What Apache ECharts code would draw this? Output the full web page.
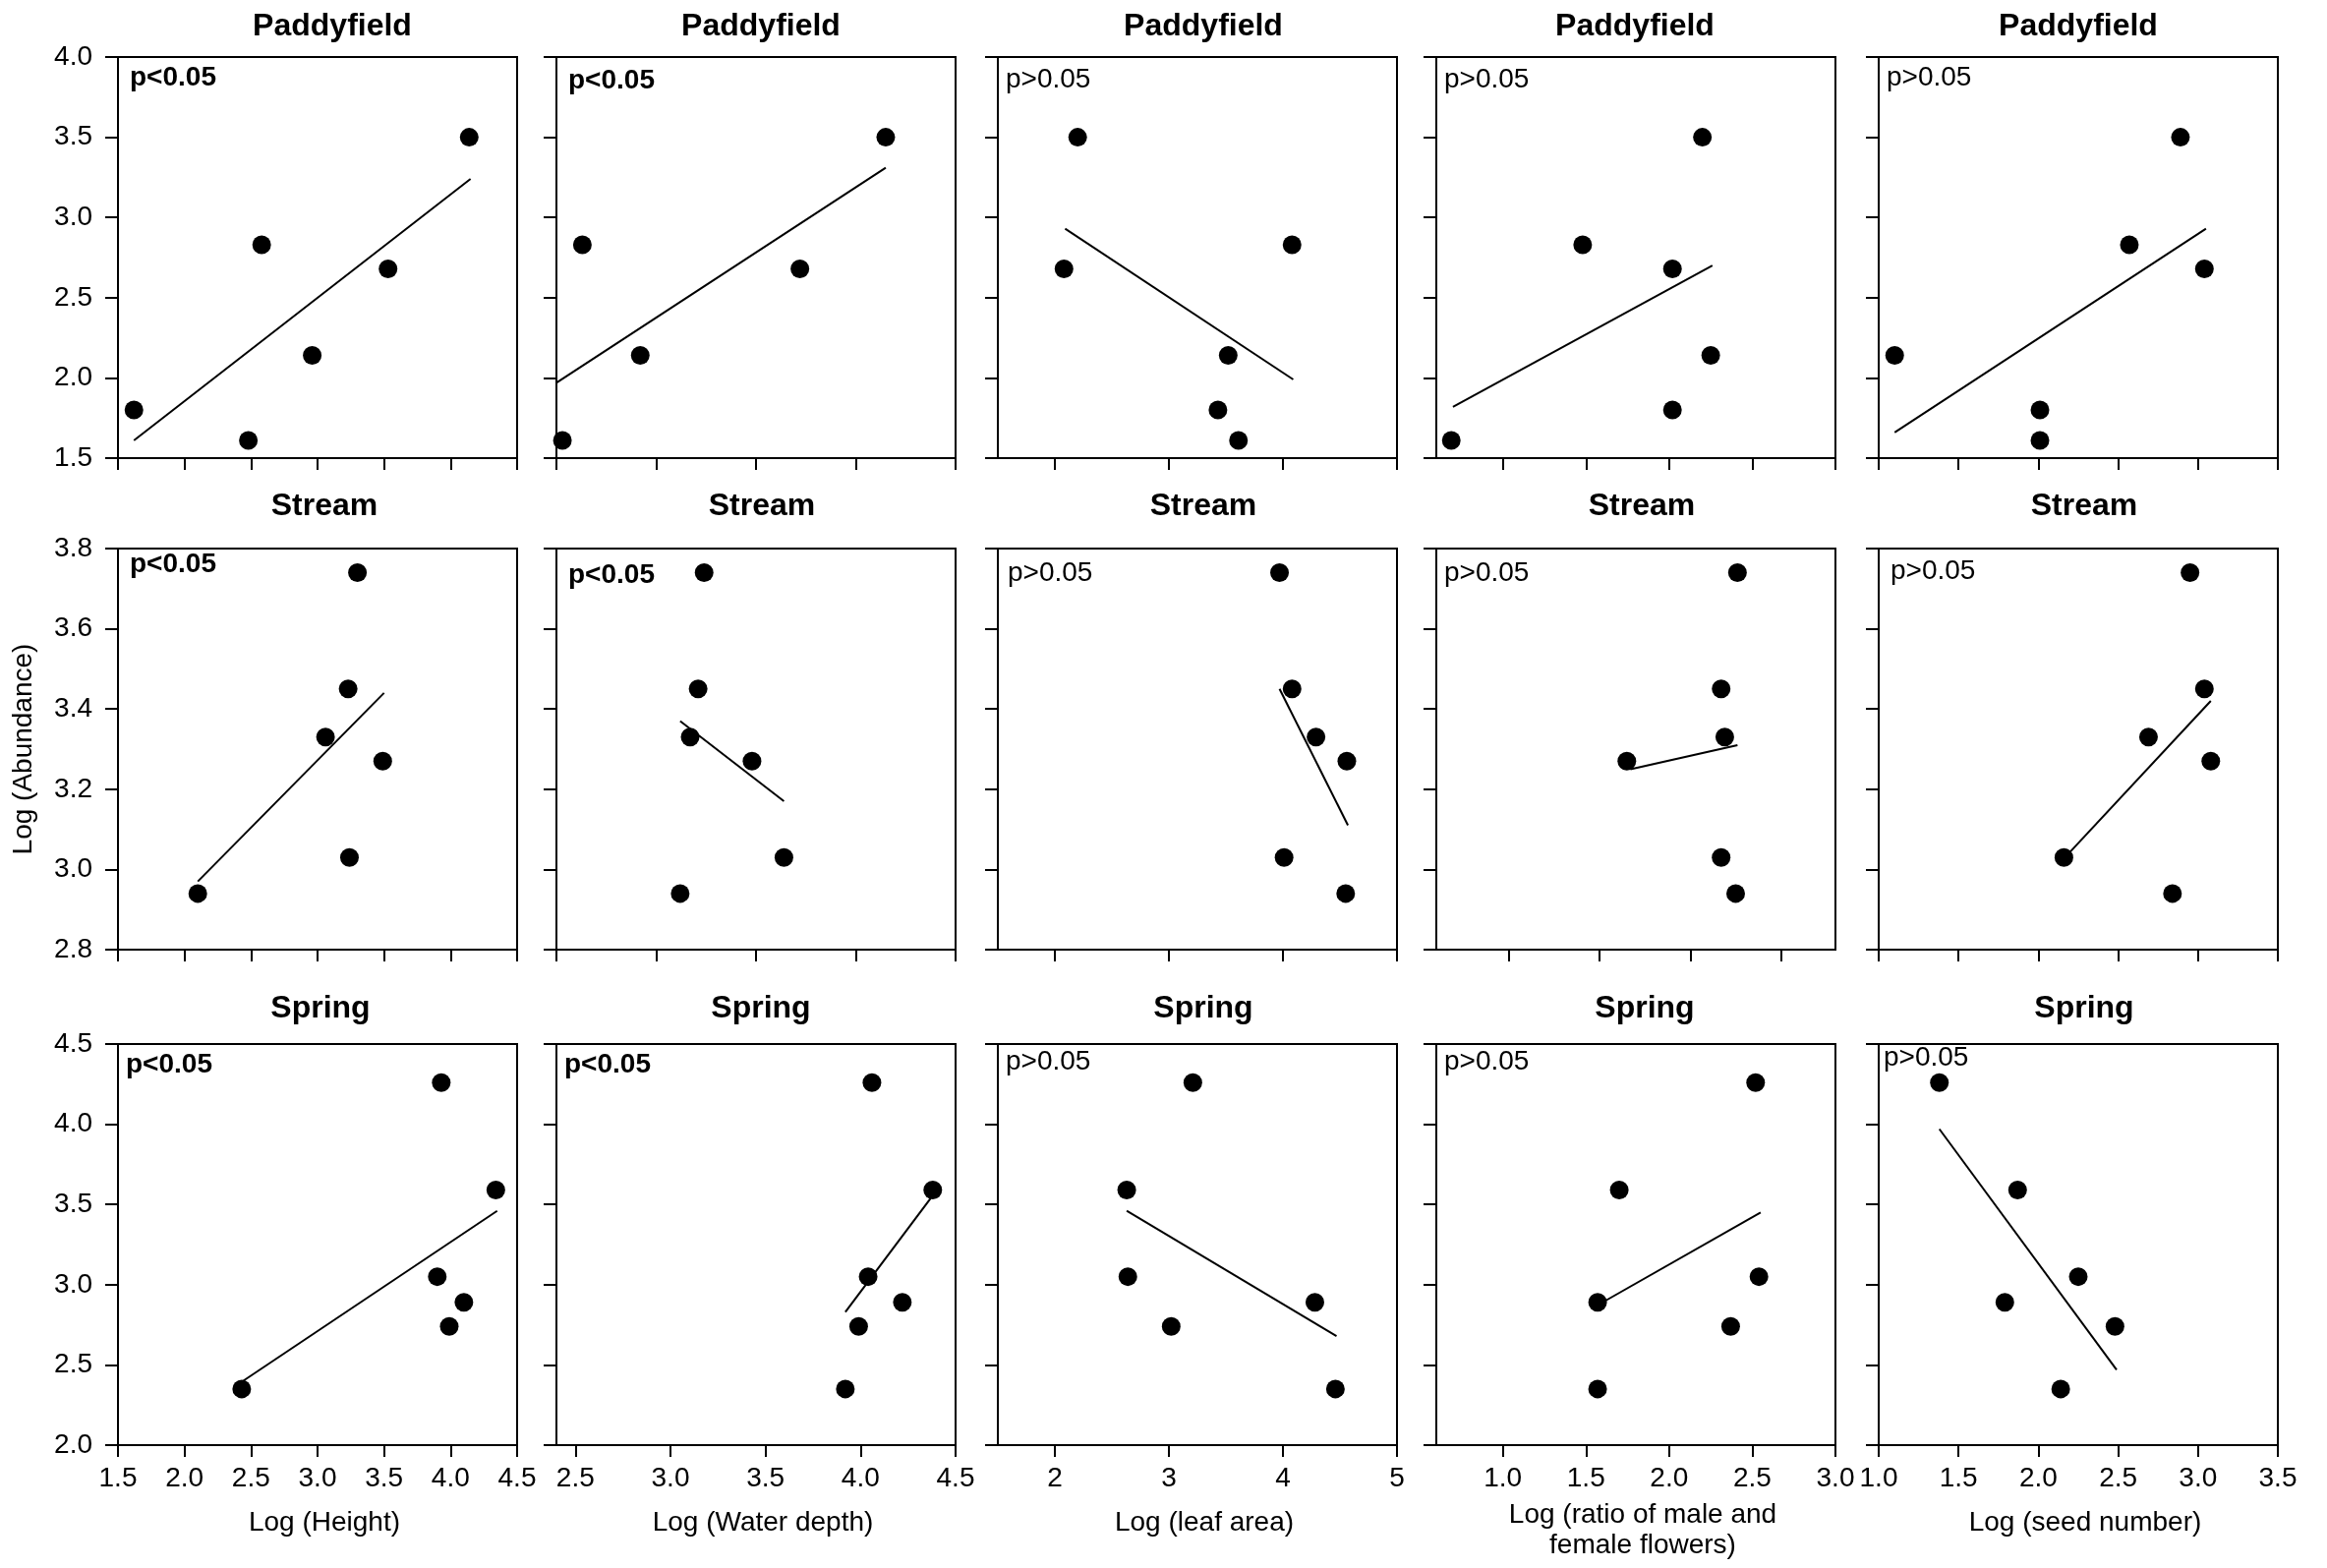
<!DOCTYPE html>
<html>
<head>
<meta charset="utf-8">
<title>Log (Abundance) vs plant traits</title>
<script src="https://cdn.jsdelivr.net/npm/echarts@6/dist/echarts.min.js"></script>
<style>
  html, body { margin: 0; padding: 0; background: #fff; }
  #chart { width: 2367px; height: 1595px; }
</style>
</head>
<body>
<div id="chart"></div>
<script>
// row titles, p labels and x axis names
const habitats = ["Paddyfield", "Stream", "Spring"];
const pValues = [
    ["p<0.05", "p<0.05", "p>0.05", "p>0.05", "p>0.05"],
    ["p<0.05", "p<0.05", "p>0.05", "p>0.05", "p>0.05"],
    ["p<0.05", "p<0.05", "p>0.05", "p>0.05", "p>0.05"]
];
const traitNames = ["Log (Height)", "Log (Water depth)", "Log (leaf area)",
    "Log (ratio of male and\nfemale flowers)", "Log (seed number)"];
const yName = "Log (Abundance)";

// y axis ranges and tick values per row
const yMin = [1.5, 2.8, 2.0];
const yMax = [4.0, 3.8, 4.5];
const yTicks = [
    [1.5, 2.0, 2.5, 3.0, 3.5, 4.0],
    [2.8, 3.0, 3.2, 3.4, 3.6, 3.8],
    [2.0, 2.5, 3.0, 3.5, 4.0, 4.5]
];

// x axis ranges and tick values per panel [row][col]
const xMin = [
    [1.5, 2.5, 1.5, 0.6, 1.0],
    [1.5, 2.5, 1.5, 0.6, 1.0],
    [1.5, 2.4, 1.5, 0.6, 1.0]
];
const xMax = [
    [4.5, 4.5, 5.0, 3.0, 3.5],
    [4.5, 4.5, 5.0, 2.8, 3.5],
    [4.5, 4.5, 5.0, 3.0, 3.5]
];
const heightTicks = [1.5, 2.0, 2.5, 3.0, 3.5, 4.0, 4.5];
const depthTicks = [2.5, 3.0, 3.5, 4.0, 4.5];
const leafTicks = [2, 3, 4, 5];
const ratioTicks = [1.0, 1.5, 2.0, 2.5, 3.0];
const seedTicks = [1.0, 1.5, 2.0, 2.5, 3.0, 3.5];

// Paddyfield points [x, y] and fitted line ends
const paddyHeight = [[1.62, 1.80], [2.48, 1.61], [2.58, 2.83], [2.96, 2.14], [3.53, 2.68], [4.14, 3.50]];
const paddyHeightFit = [[1.62, 1.61], [4.15, 3.24]];
const paddyDepth = [[2.53, 1.61], [2.63, 2.83], [2.92, 2.14], [3.72, 2.68], [4.15, 3.50]];
const paddyDepthFit = [[2.50, 1.97], [4.15, 3.31]];
const paddyLeaf = [[2.08, 2.68], [2.20, 3.50], [3.43, 1.80], [3.52, 2.14], [3.61, 1.61], [4.08, 2.83]];
const paddyLeafFit = [[2.09, 2.93], [4.09, 1.99]];
const paddyRatio = [[0.69, 1.61], [1.48, 2.83], [2.02, 2.68], [2.02, 1.80], [2.20, 3.50], [2.25, 2.14]];
const paddyRatioFit = [[0.70, 1.82], [2.26, 2.70]];
const paddySeed = [[1.10, 2.14], [2.01, 1.80], [2.01, 1.61], [2.57, 2.83], [2.89, 3.50], [3.04, 2.68]];
const paddySeedFit = [[1.10, 1.66], [3.05, 2.93]];

// Stream
const streamHeight = [[2.10, 2.94], [3.06, 3.33], [3.23, 3.45], [3.30, 3.74], [3.49, 3.27], [3.24, 3.03]];
const streamHeightFit = [[2.10, 2.97], [3.50, 3.44]];
const streamDepth = [[3.12, 2.94], [3.24, 3.74], [3.21, 3.45], [3.17, 3.33], [3.48, 3.27], [3.64, 3.03]];
const streamDepthFit = [[3.12, 3.37], [3.64, 3.17]];
const streamLeaf = [[3.97, 3.74], [4.08, 3.45], [4.29, 3.33], [4.56, 3.27], [4.01, 3.03], [4.55, 2.94]];
const streamLeafFit = [[3.97, 3.45], [4.57, 3.11]];
const streamRatio = [[1.65, 3.27], [2.17, 3.45], [2.19, 3.33], [2.26, 3.74], [2.17, 3.03], [2.25, 2.94]];
const streamRatioFit = [[1.67, 3.25], [2.26, 3.31]];
const streamSeed = [[2.16, 3.03], [2.69, 3.33], [2.84, 2.94], [2.95, 3.74], [3.04, 3.45], [3.08, 3.27]];
const streamSeedFit = [[2.19, 3.04], [3.08, 3.42]];

// Spring
const springHeight = [[2.43, 2.35], [3.93, 4.26], [3.90, 3.05], [4.10, 2.89], [3.99, 2.74], [4.34, 3.59]];
const springHeightFit = [[2.44, 2.40], [4.35, 3.46]];
const springDepth = [[3.92, 2.35], [3.99, 2.74], [4.04, 3.05], [4.06, 4.26], [4.22, 2.89], [4.38, 3.59]];
const springDepthFit = [[3.92, 2.83], [4.37, 3.54]];
const springLeaf = [[3.21, 4.26], [2.63, 3.59], [2.64, 3.05], [3.02, 2.74], [4.28, 2.89], [4.46, 2.35]];
const springLeafFit = [[2.63, 3.46], [4.47, 2.68]];
const springRatio = [[2.52, 4.26], [1.70, 3.59], [2.54, 3.05], [1.57, 2.89], [2.37, 2.74], [1.57, 2.35]];
const springRatioFit = [[1.60, 2.89], [2.55, 3.45]];
const springSeed = [[1.38, 4.26], [1.87, 3.59], [2.25, 3.05], [1.79, 2.89], [2.48, 2.74], [2.14, 2.35]];
const springSeedFit = [[1.38, 3.97], [2.49, 2.47]];

const points = [
    [paddyHeight, paddyDepth, paddyLeaf, paddyRatio, paddySeed],
    [streamHeight, streamDepth, streamLeaf, streamRatio, streamSeed],
    [springHeight, springDepth, springLeaf, springRatio, springSeed]
];
const fits = [
    [paddyHeightFit, paddyDepthFit, paddyLeafFit, paddyRatioFit, paddySeedFit],
    [streamHeightFit, streamDepthFit, streamLeafFit, streamRatioFit, streamSeedFit],
    [springHeightFit, springDepthFit, springLeafFit, springRatioFit, springSeedFit]
];
const xTicks = [heightTicks, depthTicks, leafTicks, ratioTicks, seedTicks];

/* layout */
const FONT = "'Liberation Sans', Arial, sans-serif";
const gridLeft = [120, 566, 1015, 1461, 1911];
const gridTop = [58, 558, 1062];
const gridW = 406, gridH = 408;
const titleX = [[338, 774, 1224, 1663, 2114], [330, 775, 1224, 1670, 2120], [326, 774, 1224, 1673, 2120]];
const titleY = [28, 516, 1027];
// offset of the p label inside each panel [dx, dy of text centre]
const pOffset = [
    [[12, 22], [12, 25], [8, 24], [8, 24], [8, 22]],
    [[12, 17], [12, 28], [10, 26], [8, 26], [12, 24]],
    [[8, 22], [8, 22], [8, 19], [8, 19], [5, 15]]
];

let myChart = echarts.init(document.getElementById("chart"), null, { renderer: "canvas" });

function buildOption() {
    let grids = [], xAxes = [], yAxes = [], series = [], titles = [];
    habitats.forEach((habitat, r) => {
        for (let c = 0; c < 5; c++) {
            let idx = r * 5 + c;
            grids.push({
                left: gridLeft[c], top: gridTop[r], width: gridW, height: gridH,
                show: true, borderColor: "#000", borderWidth: 2, backgroundColor: "transparent"
            });
            let showX = r === 2;
            xAxes.push({
                gridIndex: idx, type: "value", min: xMin[r][c], max: xMax[r][c],
                axisLine: { show: true, onZero: false, lineStyle: { color: "#000", width: 2 } },
                axisTick: { show: true, length: 12, customValues: xTicks[c], lineStyle: { color: "#000", width: 2 } },
                axisLabel: {
                    show: showX, customValues: xTicks[c], margin: 20,
                    fontSize: 28, fontFamily: FONT, color: "#000",
                    formatter: v => c === 2 ? String(Math.round(v)) : v.toFixed(1)
                },
                splitLine: { show: false },
                name: showX ? traitNames[c] : "",
                nameLocation: "middle",
                nameGap: c === 3 ? 56 : 64,
                nameTextStyle: { fontSize: 28, fontFamily: FONT, color: "#000", lineHeight: 31, padding: [0, 0, 0, 14] }
            });
            let showY = c === 0;
            yAxes.push({
                gridIndex: idx, type: "value", min: yMin[r], max: yMax[r],
                axisLine: { show: true, onZero: false, lineStyle: { color: "#000", width: 2 } },
                axisTick: { show: true, length: 13, customValues: yTicks[r], lineStyle: { color: "#000", width: 2 } },
                axisLabel: {
                    show: showY, customValues: yTicks[r], margin: 26,
                    fontSize: 28, fontFamily: FONT, color: "#000",
                    formatter: v => v.toFixed(1)
                },
                splitLine: { show: false },
                name: (showY && r === 1) ? yName : "",
                nameLocation: "middle",
                nameRotate: 90,
                nameGap: 82,
                nameTextStyle: { fontSize: 28, fontFamily: FONT, color: "#000" }
            });
            series.push({
                type: "line", xAxisIndex: idx, yAxisIndex: idx,
                data: fits[r][c], showSymbol: false, silent: true,
                lineStyle: { color: "#000", width: 2 }
            });
            series.push({
                type: "scatter", xAxisIndex: idx, yAxisIndex: idx,
                data: points[r][c], symbol: "circle", symbolSize: 19,
                itemStyle: { color: "#000", opacity: 1 }
            });
            // row title
            titles.push({
                text: habitat, left: titleX[r][c], top: titleY[r] - 17, textAlign: "center", padding: 0,
                textStyle: { fontSize: 32, fontWeight: "bold", fontFamily: FONT, color: "#000" }
            });
            // p label
            let bold = pValues[r][c].indexOf("<") >= 0;
            titles.push({
                text: pValues[r][c], left: gridLeft[c] + pOffset[r][c][0], top: gridTop[r] + pOffset[r][c][1] - 15, padding: 0,
                textStyle: { fontSize: 28, fontWeight: bold ? "bold" : "normal", fontFamily: FONT, color: "#000" }
            });
        }
    });
    return {
        backgroundColor: "#fff",
        animation: false,
        title: titles,
        grid: grids,
        xAxis: xAxes,
        yAxis: yAxes,
        series: series
    };
}

myChart.setOption(buildOption());
window.addEventListener("resize", function () {
    myChart.resize();
});
</script>
</body>
</html>
